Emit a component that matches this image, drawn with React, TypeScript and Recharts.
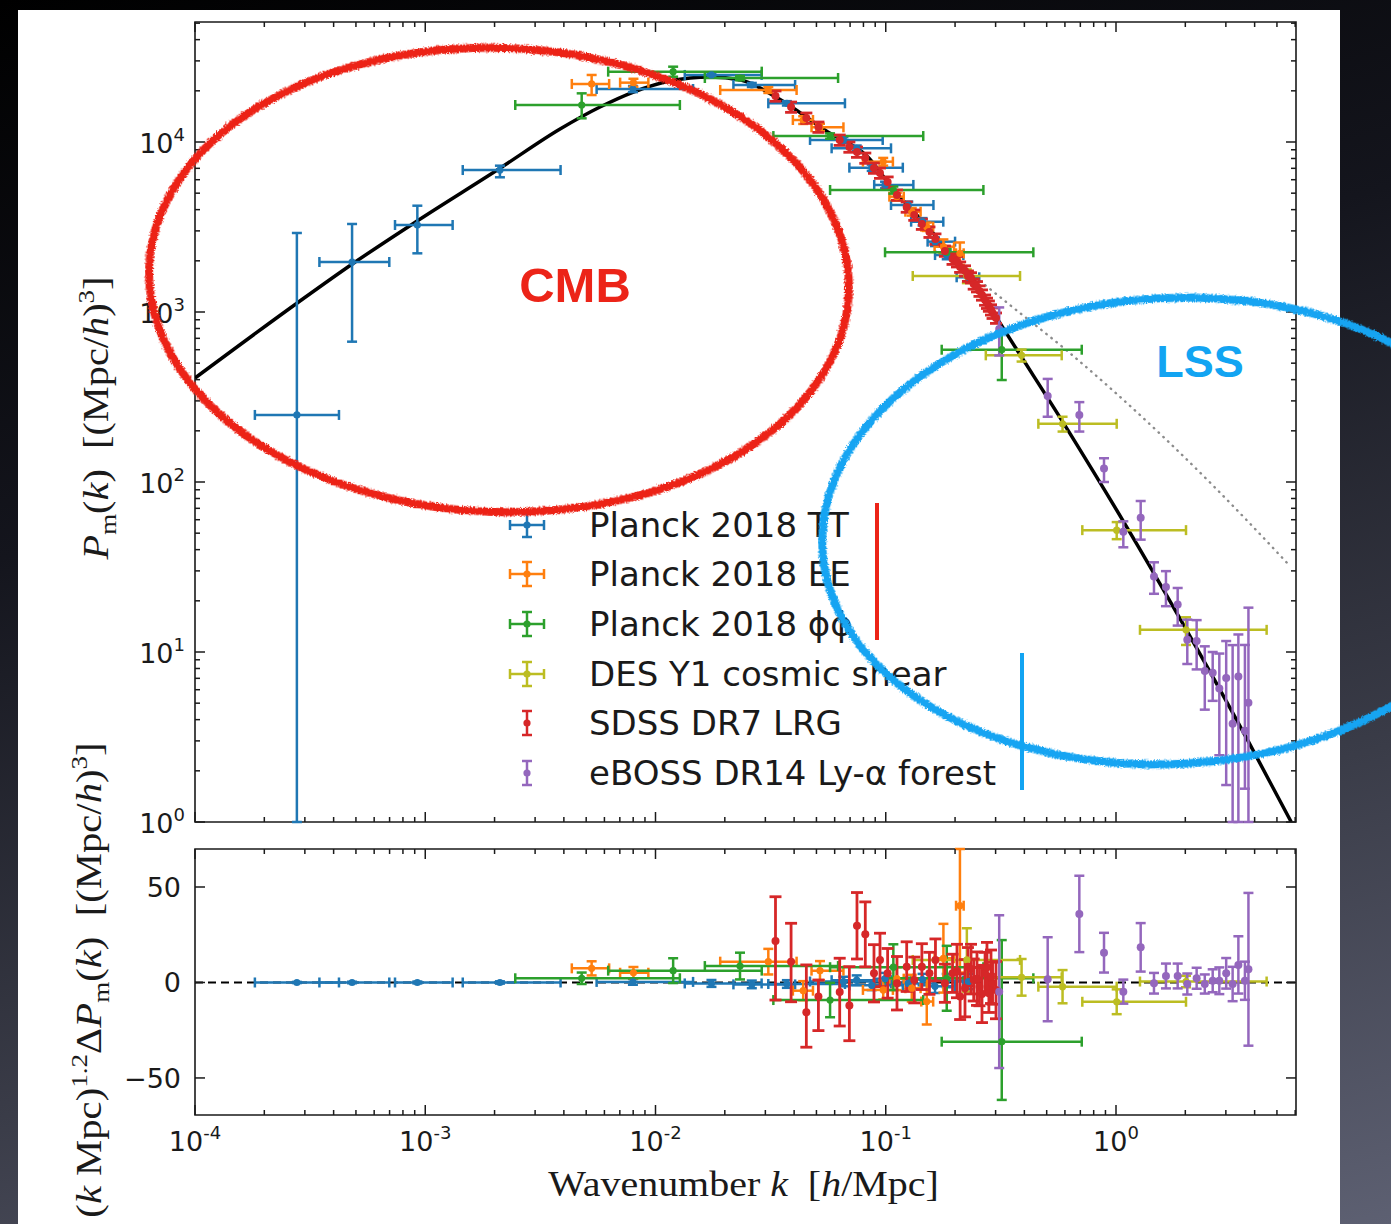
import React from 'react';
import {
  ComposedChart,
  Scatter,
  Line,
  XAxis,
  YAxis,
  ErrorBar,
  ReferenceLine,
  ReferenceArea,
  Legend,
} from 'recharts';

// ---- values ----

// theory curves (non-linear, and the linear one drawn dotted)
const CURVE_K = [1e-4, 2.78e-4, 4.82e-4, 9.22e-4, 2.12e-3, 3.85e-3, 5.74e-3, 8.02e-3, 0.01156, 0.01734, 0.02344, 0.0339, 0.056, 0.0836, 0.1083, 0.1524, 0.1977, 0.2415, 0.295, 0.618, 1.083, 1.918, 3.75, 5.77]
const CURVE_P = [409, 1130, 1916, 3430, 7030, 11920, 16060, 19680, 22860, 24100, 23170, 18150, 11460, 8160, 5220, 3160, 2107, 1542, 986, 202, 57.9, 15.3, 2.99, 1.0]
const LINEAR_K = [0.21, 0.3464, 0.618, 0.9705, 1.6, 2.64, 3.71, 5.7]
const LINEAR_P = [1890, 1099, 586, 345, 185, 95.2, 59.3, 32]

// Planck 2018 TT
const TT_K = [2.77e-4, 4.81e-4, 9.24e-4, 2.11e-3, 7.98e-3, 0.0175, 0.0262, 0.0372, 0.0655, 0.0748, 0.0869, 0.0993, 0.1253, 0.1445, 0.1637, 0.184, 0.2286]
const TT_KERR = [[0.95e-4, 1.45e-4], [1.34e-4, 2.17e-4], [1.85e-4, 3.91e-4], [0.655e-3, 1.76e-3], [2.43e-3, 6.58e-3], [0.0041, 0.0114], [0.0044, 0.0142], [0.0063, 0.0293], [0.0186, 0.0315], [0.0166, 0.0306], [0.0174, 0.0317], [0.0102, 0.0325], [0.0199, 0.0358], [0.0156, 0.0333], [0.0117, 0.0363], [0.0203, 0.0333], [0.0254, 0.0261]]
const TT_P = [248, 1968, 3250, 6840, 20500, 24800, 21650, 16890, 10280, 9180, 7063, 5590, 4260, 3398, 2593, 2163, 1600]
const TT_PERR = [[247, 2668], [1299, 1326], [1036, 970], [640, 415], [850, 850], [700, 700], [600, 600], [500, 500], [400, 400], [350, 350], [300, 300], [250, 250], [200, 200], [170, 170], [150, 150], [120, 120], [80, 80]]
const TT_RES = [0, 0, 0, 0, 0.3, -0.5, -1, -0.8, 0.5, 1.2, -1.5, 2, -0.5, 1.5, -2, 1, 0.5]
const TT_RESERR = [0.3, 0.4, 0.5, 0.6, 1.5, 1.8, 2, 2, 2.5, 2.5, 2.5, 3, 3, 3, 3.5, 3.5, 4]

// Planck 2018 EE
const EE_K = [5.28e-3, 8.02e-3, 0.0309, 0.0438, 0.0518, 0.0975, 0.1117, 0.1297, 0.1507, 0.178, 0.21]
const EE_KERR = [[0.95e-3, 1.01e-3], [1.0e-3, 1.29e-3], [0.0118, 0.0101], [0.0043, 0.0045], [0.0042, 0.0137], [0.0179, 0.0099], [0.008, 0.008], [0.008, 0.012], [0.008, 0.01], [0.015, 0.02], [0.008, 0.008]]
const EE_P = [21950, 22340, 20230, 13470, 12200, 7660, 4770, 3890, 3177, 2422, 2214]
const EE_PERR = [[3060, 2840], [1200, 1200], [800, 800], [700, 700], [600, 600], [400, 400], [250, 250], [200, 200], [180, 180], [200, 250], [320, 350]]
const EE_RES = [7.4, 5.1, 10.9, -4.3, 6.2, -3.9, 2, -3, -10, 12.7, 40.2]
const EE_RESERR = [3.7, 3, 6.7, 5, 5, 5, 6, 7, 12, 18, [35, 29.7]]

// Planck 2018 lensing
const PP_K = [4.78e-3, 0.01193, 0.02328, 0.0573, 0.1079, 0.184, 0.319]
const PP_KERR = [[2.32e-3, 7.98e-3], [5.7e-3, 0.017], [0.0069, 0.0388], [0.0248, 0.0882], [0.0506, 0.1576], [0.0847, 0.2535], [0.144, 0.391]]
const PP_P = [16510, 25930, 23790, 10840, 5220, 2245, 600]
const PP_PERR = [[2730, 2820], [1720, 1800], [700, 700], [400, 400], [250, 250], [100, 100], [202, 184]]
const PP_RES = [2.2, 6.2, 8.6, -9.2, 8.0, 2.2, -31]
const PP_RESERR = [3, 6.5, 7, 9, 12, 17, [30.5, 53.2]]

// DES Y1 cosmic shear
const DES_K = [0.225, 0.389, 0.586, 1.007, 2.014]
const DES_KERR = [[0.094, 0.158], [0.117, 0.192], [0.126, 0.421], [0.293, 1.007], [0.743, 2.496]]
const DES_P = [1629, 556, 220, 52.1, 13.5]
const DES_PERR = [[150, 150], [45, 45], [22, 22], [6, 6], [2.5, 2.5]]
const DES_RES = [11.8, 2.7, -2.2, -10.1, 0.5]
const DES_RESERR = [16.6, 9.6, 8.7, 6.5, 3]

// SDSS DR7 LRG
const SDSS_K = [0.0332, 0.0388, 0.0452, 0.051, 0.0631, 0.0695, 0.075, 0.0815, 0.0889, 0.0944, 0.1019, 0.1119, 0.1233, 0.133, 0.1435, 0.1548, 0.1644, 0.1807, 0.195, 0.2104, 0.2275, 0.241, 0.2553, 0.27, 0.2805, 0.291, 0.2039, 0.2209, 0.2346, 0.249, 0.2618, 0.2752, 0.2865, 0.3012]
const SDSS_P = [18660, 16060, 13840, 12250, 10270, 9350, 8730, 8050, 7030, 6570, 5820, 4880, 4150, 3720, 3290, 2955, 2690, 2285, 2050, 1840, 1629, 1462, 1330, 1177, 1085, 986, 1980, 1748, 1592, 1411, 1261, 1128, 1031, 922]
const SDSS_PERR = [1300, 1120, 970, 860, 720, 650, 610, 560, 490, 460, 410, 340, 290, 260, 230, 210, 190, 160, 145, 130, 115, 100, 95, 82, 76, 70, 140, 122, 111, 99, 88, 79, 72, 65]
const SDSS_RES = [21.7, 10.9, -15.6, -7.4, -5, -12.1, 29.7, 25.2, 4.8, 11.8, 4.8, -0.4, 8.3, 1.3, 8.3, 4.8, 11.8, -0.4, 4.8, -7.4, 8.3, 1.3, -2.2, 4.8, -5.7, -0.4, 6, -3, 7, 2, -6, 8, 3, -4]
const SDSS_RESERR = [[30.9, 23.2], [21, 20.1], [18.3, 24.8], [17.8, 8.7], [17.8, 17.7], [18.4, 20.4], [17.4, 17.4], [17, 17], [15, 15], [14, 14], [13, 13], [14, 14], [13, 13], [12, 12], [12, 12], [11, 11], [11, 11], [10, 10], [10, 10], [12, 12], [10, 10], [11, 11], [10, 10], [11, 11], [10, 10], [11, 11], [14, 14], [15, 15], [13, 13], [14, 14], [15, 15], [13, 13], [14, 14], [15, 15]]

// eBOSS DR14 Ly-alpha forest
const LYA_K = [0.311, 0.505, 0.693, 0.887, 1.076, 1.28, 1.462, 1.648, 1.853, 2.04, 2.24, 2.43, 2.63, 2.81, 3.01, 3.21, 3.4, 3.63, 3.76]
const LYA_P = [793, 321, 248, 120, 50.9, 61.6, 27.8, 24.1, 19.05, 11.8, 11.6, 7.72, 7.54, 6.09, 7.02, 3.78, 7.18, 3.44, 5.03]
const LYA_PERR = [[238, 271], [79, 83], [50, 47], [20, 18], [9.6, 7.8], [15.8, 15.7], [5.8, 5.9], [5.5, 5.8], [4.75, 4.75], [3.3, 3.7], [3.7, 3.8], [3.14, 3.08], [2.38, 2.46], [3.62, 3.7], [5.37, 4.58], [2.78, 7.2], [6.18, 5.5], [1.87, 7.56], [4.03, 13.2]]
const LYA_RES = [-4.8, 1.7, 35.9, 15.6, -4.8, 18.4, -0.4, 3.4, 3.4, -0.8, 2.2, -0.8, 0.9, 0.9, 4.8, -0.8, 9.2, 0.9, 6.9]
const LYA_RESERR = [40, 22, 20, 10.4, 6.3, 12.7, 5.4, 6.5, 6.5, 5.5, 5.5, 5, 6, 7, 8, 9, 15, 10, 40]

// axes
const K_DOMAIN = [1e-4, 6.05]
const P_DOMAIN = [1, 50800]
const RES_DOMAIN = [-69.4, 69.9]
const K_DECADES = [1e-4, 1e-3, 1e-2, 1e-1, 1]
const P_DECADES = [1, 10, 100, 1000, 10000]
const MINOR_MULT = [2, 3, 4, 5, 6, 7, 8, 9]
const RES_TICKS = [-50, 0, 50]
const RES_TICK_LABELS = ['\u221250', '0', '50']

const TT_C = '#1f77b4'
const EE_C = '#ff7f0e'
const PP_C = '#2ca02c'
const DES_C = '#bcbd22'
const SDSS_C = '#d62728'
const LYA_C = '#9467bd'
const INK = '#1a1a1a'
const SANS = '"DejaVu Sans", sans-serif'
const SERIF = '"Liberation Serif", "DejaVu Serif", serif'

const PLOT_W = 1101
const TOP_H = 800
const BOT_H = 266

const logTicks = (decades: number[], max: number) =>
  decades.flatMap((d) => [d, ...MINOR_MULT.map((m) => m * d)]).filter((v) => v <= max)

const K_TICKS = logTicks(K_DECADES, K_DOMAIN[1])
const P_TICKS = logTicks(P_DECADES, P_DOMAIN[1])

const isDecade = (v: number) => {
  const l = Math.log10(v)
  return Math.abs(l - Math.round(l)) < 1e-6
}
const expOf = (v: number) => String(Math.round(Math.log10(v)))

const rows = (k: number[], p: number[], pErr: any[], r: number[], rErr: any[], kErr?: number[][]) =>
  k.map((kv, i) => ({ k: kv, p: p[i], pErr: pErr[i], r: r[i], rErr: rErr[i], kErr: kErr ? kErr[i] : 0 }))

const curve = CURVE_K.map((k, i) => ({ k, p: CURVE_P[i] }))
const linear = LINEAR_K.map((k, i) => ({ k, p: LINEAR_P[i] }))

const SERIES = [
  { name: 'Planck 2018 TT', color: TT_C, xbar: true, w: 2.5, cap: 5, data: rows(TT_K, TT_P, TT_PERR, TT_RES, TT_RESERR, TT_KERR) },
  { name: 'Planck 2018 EE', color: EE_C, xbar: true, w: 2.5, cap: 5, data: rows(EE_K, EE_P, EE_PERR, EE_RES, EE_RESERR, EE_KERR) },
  { name: 'Planck 2018 \u03d5\u03d5', color: PP_C, xbar: true, w: 2.5, cap: 5, data: rows(PP_K, PP_P, PP_PERR, PP_RES, PP_RESERR, PP_KERR) },
  { name: 'DES Y1 cosmic shear', color: DES_C, xbar: true, w: 2.5, cap: 5, data: rows(DES_K, DES_P, DES_PERR, DES_RES, DES_RESERR, DES_KERR) },
  { name: 'SDSS DR7 LRG', color: SDSS_C, xbar: false, w: 2.8, cap: 6, data: rows(SDSS_K, SDSS_P, SDSS_PERR, SDSS_RES, SDSS_RESERR) },
  { name: 'eBOSS DR14 Ly-\u03b1 forest', color: LYA_C, xbar: false, w: 2.5, cap: 5, data: rows(LYA_K, LYA_P, LYA_PERR, LYA_RES, LYA_RESERR) },
]

const dot = (color: string, r: number) => (props: any) => <circle cx={props.cx} cy={props.cy} r={r} fill={color} />

// ---- ticks (matplotlib style: inward, on all four sides) ----
function makeKTick(plotH: number, labels: boolean) {
  return function KTick(props: any) {
    const { x, y, payload } = props
    const major = isDecade(payload.value)
    const len = major ? 10 : 5
    return (
      <g>
        <line x1={x} x2={x} y1={y} y2={y - len} stroke={INK} strokeWidth={1.5} />
        <line x1={x} x2={x} y1={y - plotH} y2={y - plotH + len} stroke={INK} strokeWidth={1.5} />
        {labels && major && (
          <text x={x} y={y + 36} textAnchor="middle" fontFamily={SANS} fontSize={27} fill={INK}>
            10<tspan fontSize={18} dy={-12}>{expOf(payload.value)}</tspan>
          </text>
        )}
      </g>
    )
  }
}

function PTick(props: any) {
  const { x, y, payload } = props
  const major = isDecade(payload.value)
  const len = major ? 10 : 5
  return (
    <g>
      <line x1={x} x2={x + len} y1={y} y2={y} stroke={INK} strokeWidth={1.5} />
      <line x1={x + PLOT_W} x2={x + PLOT_W - len} y1={y} y2={y} stroke={INK} strokeWidth={1.5} />
      {major && (
        <text x={x - 10} y={y + 11} textAnchor="end" fontFamily={SANS} fontSize={27} fill={INK}>
          10<tspan fontSize={18} dy={-12}>{expOf(payload.value)}</tspan>
        </text>
      )}
    </g>
  )
}

function ResTick(props: any) {
  const { x, y, payload } = props
  const label = RES_TICK_LABELS[RES_TICKS.indexOf(payload.value)]
  return (
    <g>
      <line x1={x} x2={x + 10} y1={y} y2={y} stroke={INK} strokeWidth={1.5} />
      <line x1={x + PLOT_W} x2={x + PLOT_W - 10} y1={y} y2={y} stroke={INK} strokeWidth={1.5} />
      <text x={x - 14} y={y + 10} textAnchor="end" fontFamily={SANS} fontSize={27} fill={INK}>
        {label}
      </text>
    </g>
  )
}

function TopYLabel() {
  return (
    <g transform="translate(108, 418) rotate(-90) scale(1.12, 1)">
      <text x={0} y={0} textAnchor="middle" fontFamily={SERIF} fontSize={36} fill={INK}>
        <tspan fontStyle="italic">P</tspan>
        <tspan fontSize={24} dy={8}>m</tspan>
        <tspan dy={-8}>(</tspan>
        <tspan fontStyle="italic">k</tspan>
        <tspan>{')\u00a0\u00a0[(Mpc/'}</tspan>
        <tspan fontStyle="italic">h</tspan>
        <tspan>)</tspan>
        <tspan fontSize={24} dy={-14}>3</tspan>
        <tspan dy={14}>]</tspan>
      </text>
    </g>
  )
}

function BottomYLabel() {
  // bottom chart starts 700px down the page
  return (
    <g transform={`translate(101, ${980 - 700}) rotate(-90) scale(1.13, 1)`}>
      <text x={0} y={0} textAnchor="middle" fontFamily={SERIF} fontSize={36} fill={INK}>
        <tspan>(</tspan>
        <tspan fontStyle="italic">k</tspan>
        <tspan>{'\u00a0Mpc)'}</tspan>
        <tspan fontSize={24} dy={-14}>1.2</tspan>
        <tspan dy={14}>{'\u0394'}</tspan>
        <tspan fontStyle="italic">P</tspan>
        <tspan fontSize={24} dy={8}>m</tspan>
        <tspan dy={-8}>(</tspan>
        <tspan fontStyle="italic">k</tspan>
        <tspan>{')\u00a0\u00a0[(Mpc/'}</tspan>
        <tspan fontStyle="italic">h</tspan>
        <tspan>)</tspan>
        <tspan fontSize={24} dy={-14}>3</tspan>
        <tspan dy={14}>]</tspan>
      </text>
    </g>
  )
}

function XLabel(props: any) {
  const { viewBox } = props
  const cx = viewBox.x + viewBox.width / 2 - 2
  return (
    <g transform={`translate(${cx}, ${viewBox.y + 81}) scale(1.11, 1)`}>
      <text x={0} y={0} textAnchor="middle" fontFamily={SERIF} fontSize={36} fill={INK}>
        <tspan>{'Wavenumber\u00a0'}</tspan>
        <tspan fontStyle="italic">k</tspan>
        <tspan>{'\u00a0\u00a0['}</tspan>
        <tspan fontStyle="italic">h</tspan>
        <tspan>/Mpc]</tspan>
      </text>
    </g>
  )
}

function LegendIcon({ color, xbar }: { color: string; xbar: boolean }) {
  return (
    <svg width={54} height={40} style={{ display: 'block' }}>
      {xbar && (
        <g stroke={color} strokeWidth={2.5}>
          <line x1={10} x2={44} y1={20} y2={20} />
          <line x1={10} x2={10} y1={15} y2={25} />
          <line x1={44} x2={44} y1={15} y2={25} />
        </g>
      )}
      <g stroke={color} strokeWidth={2.5}>
        <line x1={27} x2={27} y1={8} y2={32} />
        <line x1={22} x2={32} y1={8} y2={8} />
        <line x1={22} x2={32} y1={32} y2={32} />
      </g>
      <circle cx={27} cy={20} r={3.6} fill={color} />
    </svg>
  )
}

function LegendBox() {
  return (
    <div style={{ fontFamily: SANS, fontSize: 34, color: INK }}>
      {SERIES.map((s) => (
        <div key={s.name} style={{ display: 'flex', alignItems: 'center', height: 49.6 }}>
          <LegendIcon color={s.color} xbar={s.xbar} />
          <span style={{ marginLeft: 35, whiteSpace: 'nowrap' }}>{s.name}</span>
        </div>
      ))}
    </div>
  )
}

function seriesNodes(yKey: 'pErr' | 'rErr') {
  return SERIES.map((s) => (
    <Scatter key={s.name + yKey} name={s.name} data={s.data} shape={dot(s.color, s.xbar ? 3.6 : 4)} isAnimationActive={false}>
      {s.xbar && <ErrorBar dataKey="kErr" direction="x" width={s.cap} stroke={s.color} strokeWidth={s.w} />}
      <ErrorBar dataKey={yKey} direction="y" width={s.cap} stroke={s.color} strokeWidth={s.w} />
    </Scatter>
  ))
}

const TopKTick = makeKTick(TOP_H, false)
const BotKTick = makeKTick(BOT_H, true)

export default function App() {
  return (
    <div
      style={{
        position: 'absolute',
        left: 0,
        top: 0,
        width: 1391,
        height: 1224,
        overflow: 'hidden',
        background: 'linear-gradient(165deg, #000000 0%, #14151d 35%, #3a3c48 70%, #5d6072 100%)',
      }}
    >
      <div style={{ position: 'absolute', left: 18, top: 10, width: 1322, height: 1214, background: '#ffffff' }} />

      {/* main panel: P(k) */}
      <div style={{ position: 'absolute', left: 0, top: 0 }}>
        <ComposedChart width={1391} height={840} margin={{ top: 22, right: 95, bottom: 8, left: 135 }}>
          <XAxis
            dataKey="k"
            type="number"
            scale="log"
            domain={K_DOMAIN}
            allowDataOverflow
            ticks={K_TICKS}
            interval={0}
            tick={<TopKTick />}
            tickLine={false}
            axisLine={false}
            tickSize={0}
            tickMargin={0}
            height={10}
          />
          <YAxis
            dataKey="p"
            type="number"
            scale="log"
            domain={P_DOMAIN}
            allowDataOverflow
            ticks={P_TICKS}
            interval={0}
            tick={<PTick />}
            tickLine={false}
            axisLine={false}
            tickSize={0}
            tickMargin={0}
            width={60}
            label={<TopYLabel />}
          />
          <ReferenceArea x1={K_DOMAIN[0]} x2={K_DOMAIN[1]} y1={P_DOMAIN[0]} y2={P_DOMAIN[1]} fill="none" stroke={INK} strokeWidth={1.6} ifOverflow="visible" />
          <Line data={linear} dataKey="p" type="monotone" stroke="#8c8c8c" strokeWidth={2.4} strokeDasharray="0.5 6" strokeLinecap="round" dot={false} isAnimationActive={false} legendType="none" />
          <Line data={curve} dataKey="p" type="monotone" stroke="#000000" strokeWidth={3.5} dot={false} isAnimationActive={false} legendType="none" />
          {seriesNodes('pErr')}
          <Legend
            layout="vertical"
            align="center"
            verticalAlign="middle"
            content={<LegendBox />}
            wrapperStyle={{ left: 500, top: 500, width: 620, height: 300 }}
          />
        </ComposedChart>
      </div>

      {/* residual panel */}
      <div style={{ position: 'absolute', left: 0, top: 700 }}>
        <ComposedChart width={1391} height={524} margin={{ top: 149, right: 95, bottom: 49, left: 135 }}>
          <XAxis
            dataKey="k"
            type="number"
            scale="log"
            domain={K_DOMAIN}
            allowDataOverflow
            ticks={K_TICKS}
            interval={0}
            tick={<BotKTick />}
            tickLine={false}
            axisLine={false}
            tickSize={0}
            tickMargin={0}
            height={60}
            label={<XLabel />}
          />
          <YAxis
            dataKey="r"
            type="number"
            domain={RES_DOMAIN}
            allowDataOverflow
            ticks={RES_TICKS}
            interval={0}
            tick={<ResTick />}
            tickLine={false}
            axisLine={false}
            tickSize={0}
            tickMargin={0}
            width={60}
            label={<BottomYLabel />}
          />
          <ReferenceArea x1={K_DOMAIN[0]} x2={K_DOMAIN[1]} y1={RES_DOMAIN[0]} y2={RES_DOMAIN[1]} fill="none" stroke={INK} strokeWidth={1.6} ifOverflow="visible" />
          <ReferenceLine y={0} stroke="#000000" strokeWidth={2} strokeDasharray="8 5" />
          {seriesNodes('rErr')}
        </ComposedChart>
      </div>

      {/* hand-drawn annotations on top */}
      <svg width={1391} height={1224} style={{ position: 'absolute', left: 0, top: 0, pointerEvents: 'none' }}>
        <defs>
          <filter id="rough" x="-5%" y="-5%" width="110%" height="110%">
            <feTurbulence type="fractalNoise" baseFrequency="0.7" numOctaves={2} seed={4} result="noise" />
            <feDisplacementMap in="SourceGraphic" in2="noise" scale={5} xChannelSelector="R" yChannelSelector="G" />
          </filter>
        </defs>
        <ellipse cx={499} cy={280} rx={350} ry={232} transform="rotate(2 499 280)" fill="none" stroke="#ec2418" strokeWidth={8} filter="url(#rough)" />
        <text x={575} y={302} textAnchor="middle" fontFamily='"Liberation Sans", Arial, sans-serif' fontWeight="bold" fontSize={49} fill="#ec2418">
          CMB
        </text>
        <ellipse cx={1172} cy={531} rx={350} ry={233} transform="rotate(-3 1172 531)" fill="none" stroke="#12a4f2" strokeWidth={8} filter="url(#rough)" />
        <text x={1200} y={377} textAnchor="middle" fontFamily='"Liberation Sans", Arial, sans-serif' fontWeight="bold" fontSize={45} fill="#12a4f2">
          LSS
        </text>
        <line x1={877} x2={877} y1={503} y2={640} stroke="#ec2418" strokeWidth={4} />
        <line x1={1022} x2={1022} y1={653} y2={790} stroke="#12a4f2" strokeWidth={4} />
      </svg>
    </div>
  )
}
